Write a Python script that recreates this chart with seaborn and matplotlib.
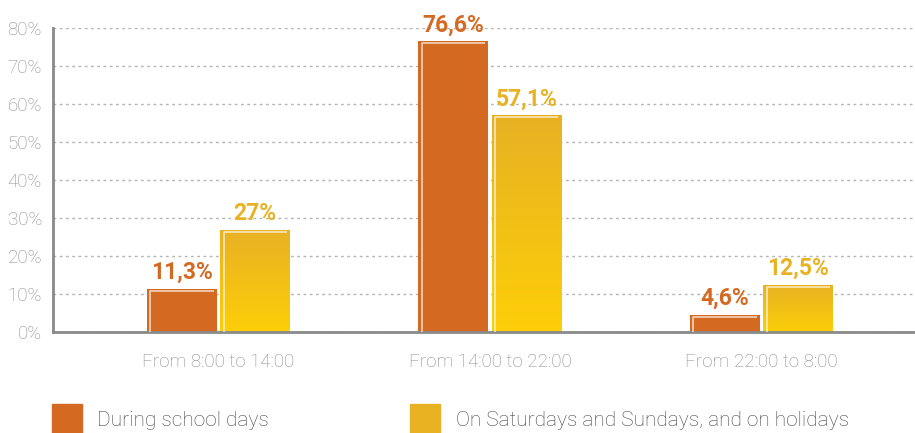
import numpy as np
import pandas as pd
import seaborn as sns
import matplotlib.pyplot as plt
from matplotlib.colors import LinearSegmentedColormap
from matplotlib.patches import Rectangle

periods = ["From 8:00 to 14:00", "From 14:00 to 22:00", "From 22:00 to 8:00"]
school = [11.3, 76.6, 4.6]
weekend = [27.0, 57.1, 12.5]
series = ["During school days", "On Saturdays and Sundays, and on holidays"]
value_labels = [["11,3%", "76,6%", "4,6%"], ["27%", "57,1%", "12,5%"]]

orange = "#D46A22"
yellow = "#E8B222"

df = pd.DataFrame({
    "period": periods * 2,
    "share": school + weekend,
    "group": [series[0]] * 3 + [series[1]] * 3,
})

sns.set_style("white")
plt.rcParams["font.family"] = ["Roboto", "DejaVu Sans"]

fig = plt.figure(figsize=(9.15, 4.33), dpi=100)
ax = fig.add_axes([53 / 915, 1 - 332 / 433, 862 / 915, 303.5 / 433])

sns.barplot(data=df, x="period", y="share", hue="group", order=periods,
            hue_order=series, palette=[orange, yellow], width=0.541, gap=0.048,
            saturation=1, linewidth=0, legend=False, ax=ax)

ax.set_ylim(0, 80)
ax.set_yticks(range(0, 81, 10))
ax.set_yticklabels([f"{v}%" for v in range(0, 81, 10)])
ax.yaxis.grid(True, color="#b5b5b5", linestyle=(0, (2, 2.5)), linewidth=1)
ax.set_axisbelow(True)
for s in ["top", "right"]:
    ax.spines[s].set_visible(False)
for s in ["left", "bottom"]:
    ax.spines[s].set_color("#8a8a8a")
    ax.spines[s].set_linewidth(2)
ax.tick_params(axis="both", length=0, labelsize=13.5, labelcolor="#8c8c8c")
ax.tick_params(axis="x", pad=15)
ax.tick_params(axis="y", pad=8)
for lbl in ax.get_xticklabels() + ax.get_yticklabels():
    lbl.set_fontweight("light")
ax.set_xlabel("")
ax.set_ylabel("")

cmap_y = LinearSegmentedColormap.from_list("y", ["#FDCE08", "#E8B124"])
grad = np.linspace(0, 1, 256).reshape(-1, 1)

for i, cont in enumerate(ax.containers):
    for j, bar in enumerate(cont):
        x0, w, h = bar.get_x(), bar.get_width(), bar.get_height()
        if i == 1:
            im = ax.imshow(grad, cmap=cmap_y, aspect="auto", origin="lower",
                           extent=(x0, x0 + w, 0, h), zorder=bar.get_zorder())
            im.set_clip_path(bar)
        # inner highlight along top and left edges
        dx, dy = 0.012, 0.55
        ax.plot([x0 + dx, x0 + dx, x0 + w - dx], [0, h - dy, h - dy],
                color="white", alpha=0.7, linewidth=1.2, zorder=5,
                solid_capstyle="butt")
        ax.text(x0 + w / 2, h + 1.3, value_labels[i][j], ha="center", va="bottom",
                fontsize=16.5, fontweight="bold", color=orange if i == 0 else yellow)

ax.set_xlim(-0.6096, 2.565)
ax.set_ylim(0, 80)

# legend at the bottom
for (lx, tx, col, lab) in [(52, 97, orange, series[0]), (410, 456, yellow, series[1])]:
    fig.patches.append(Rectangle((lx / 915, 0), 30 / 915, 29 / 433,
                                 transform=fig.transFigure, color=col))
    fig.text(tx / 915, 1 - 420 / 433, lab, va="center", ha="left",
             fontsize=15, fontweight="light", color="#444444")

fig.savefig("out.png", dpi=100)
